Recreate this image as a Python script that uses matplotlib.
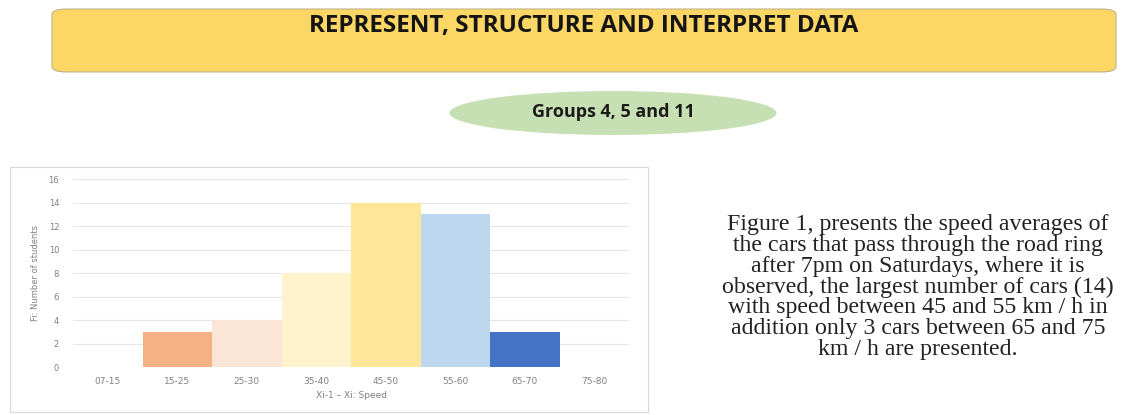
import matplotlib.pyplot as plt
from matplotlib.patches import FancyBboxPatch, Ellipse, Rectangle

# data
speed_ranges = ["07-15", "15-25", "25-30", "35-40", "45-50", "55-60", "65-70", "75-80"]
counts = [0, 3, 4, 8, 14, 13, 3, 0]
bar_colors = ["#F4B183", "#F4B183", "#FBE5D6", "#FFF2CC", "#FFE699", "#BDD7EE", "#4472C4", "#4472C4"]

title = "REPRESENT, STRUCTURE AND INTERPRET DATA"
subtitle = "Groups 4, 5 and 11"
note = ("Figure 1, presents the speed averages of\n"
        "the cars that pass through the road ring\n"
        "after 7pm on Saturdays, where it is\n"
        "observed, the largest number of cars (14)\n"
        "with speed between 45 and 55 km / h in\n"
        "addition only 3 cars between 65 and 75\n"
        "km / h are presented.")

W, H = 1133, 415
fig = plt.figure(figsize=(W / 100, H / 100), dpi=100)
fig.patch.set_facecolor("white")

def fx(px):
    return px / W

def fy(py):
    return 1 - py / H

# yellow banner
banner = FancyBboxPatch((fx(52), fy(72)), fx(1116) - fx(52), fy(9) - fy(72),
                        boxstyle="round,pad=0,rounding_size=0.013",
                        transform=fig.transFigure, facecolor="#FCD766",
                        edgecolor="#BFB488", linewidth=0.8, zorder=-1)
fig.patches.append(banner)
fig.text(fx(584), fy(26), title, ha="center", va="center", fontsize=17.5,
         fontweight="bold", family="Open Sans", color="#151515")

# green ellipse
ell = Ellipse((fx(613), fy(113)), fx(327), 44 / H, transform=fig.transFigure,
              facecolor="#C6E0B4", edgecolor="none", zorder=-1)
fig.patches.append(ell)
fig.text(fx(613), fy(112), subtitle, ha="center", va="center", fontsize=13,
         fontweight="bold", family="Open Sans", color="#1a1a1a")

# chart frame
frame = Rectangle((fx(10), fy(412)), fx(648) - fx(10), fy(167) - fy(412),
                  transform=fig.transFigure, facecolor="white",
                  edgecolor="#D9D9D9", linewidth=0.8, zorder=-1)
fig.patches.append(frame)

ax = fig.add_axes([fx(73), fy(367), fx(629) - fx(73), fy(179) - fy(367)])
x = range(len(speed_ranges))
ax.bar(x, counts, width=1.0, color=bar_colors, zorder=3)
ax.set_xlim(-0.5, len(speed_ranges) - 0.5)
ax.set_ylim(0, 16)
ax.set_yticks(range(0, 17, 2))
ax.set_xticks(list(x))
ax.set_xticklabels(speed_ranges)
ax.tick_params(axis="x", length=0, labelsize=6.5, colors="#808080", pad=7)
ax.tick_params(axis="y", length=0, labelsize=6, colors="#808080", pad=10)
ax.grid(axis="y", color="#E6E6E6", linewidth=0.8, zorder=0)
for s in ax.spines.values():
    s.set_visible(False)
ax.set_xlabel("Xi-1 \u2013 Xi: Speed", fontsize=6.5, color="#808080", labelpad=4)
ax.set_ylabel("Fi: Number of students", fontsize=6, color="#808080", labelpad=6)
ax.set_facecolor("none")

# description
fig.text(fx(918), fy(287), note, ha="center", va="center", fontsize=17.2,
         family="Liberation Serif", color="#222222", linespacing=0.98)

fig.savefig("out.png", dpi=100)
